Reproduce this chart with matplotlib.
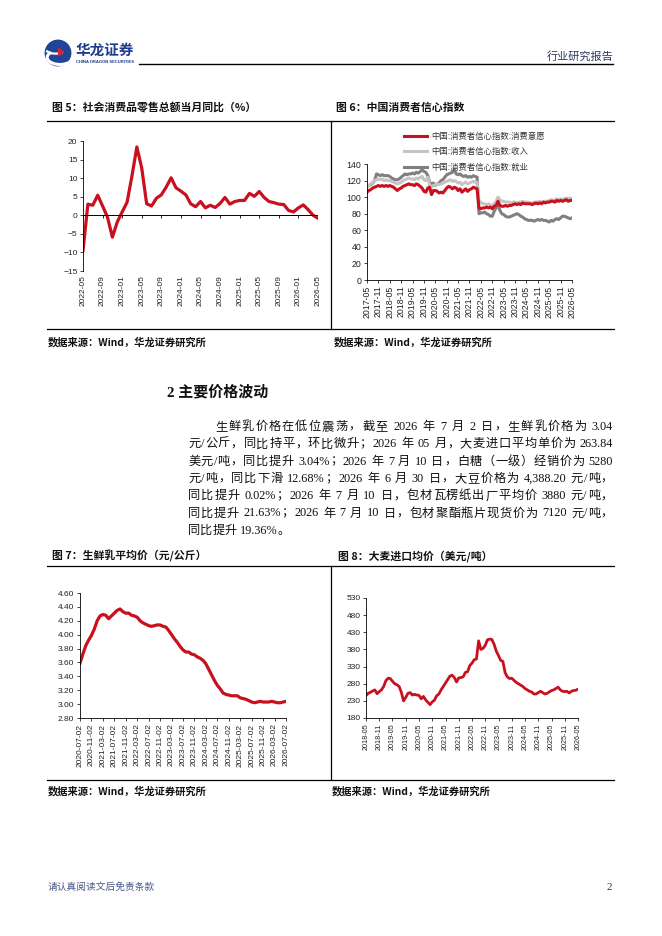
import re
import numpy as np
import matplotlib
matplotlib.use('Agg')
import matplotlib.pyplot as plt
from matplotlib.lines import Line2D
from matplotlib.patches import Circle, Arc, Polygon

plt.rcParams['font.family'] = ['Liberation Sans', 'Noto Sans CJK SC']
plt.rcParams['axes.linewidth'] = 0.6

W, H = 662, 936
CJK = ['Noto Sans CJK SC']
SERIF = ['Liberation Serif', 'Noto Sans CJK SC']
RED = '#C8101E'

# ---- 图5 社会消费品零售总额当月同比 (2022-05 .. 2026-05)
retail_labels = ['2022-05', '2022-09', '2023-01', '2023-05', '2023-09', '2024-01', '2024-05',
                 '2024-09', '2025-01', '2025-05', '2025-09', '2026-01', '2026-05']
retail_yoy = [-9.5, 3.0, 2.7, 5.4, 2.5, -0.5, -5.9, -1.8, 0.9, 3.5, 10.6, 18.4, 12.7,
              3.1, 2.5, 4.6, 5.5, 7.6, 10.1, 7.4, 6.5, 5.5, 3.1, 2.3, 3.7,
              2.0, 2.7, 2.1, 3.2, 4.8, 3.0, 3.7, 4.0, 4.0, 5.9, 5.1, 6.4,
              4.8, 3.7, 3.4, 3.0, 2.9, 1.3, 0.9, 2.0, 2.8, 1.5, 0.0, -0.8]

# ---- 图6 中国消费者信心指数 (2017-05 .. 2026-05)
conf_labels = ['2017-05', '2017-11', '2018-05', '2018-11', '2019-05', '2019-11', '2020-05',
               '2020-11', '2021-05', '2021-11', '2022-05', '2022-11', '2023-05', '2023-11',
               '2024-05', '2024-11', '2025-05', '2025-11', '2026-05']
conf_names = ['中国:消费者信心指数:消费意愿', '中国:消费者信心指数:收入', '中国:消费者信心指数:就业']
conf_willing = [106, 108, 109, 111, 112, 113,
                114, 113, 114, 113, 114, 113,
                114, 113, 112, 110, 108, 110,
                111, 113, 114, 115, 116, 115,
                115, 114, 116, 115, 113, 111,
                107, 106, 111, 112, 103, 108,
                108, 107, 105, 106, 105, 108,
                111, 113, 112, 110, 112, 111,
                108, 110, 106, 108, 110, 107,
                109, 110, 112, 111, 110, 87,
                86, 87, 87, 88, 87, 88,
                86, 89, 90, 95, 90, 89,
                89, 90, 89, 90, 90, 91,
                92, 91, 92, 91, 93, 92,
                92, 92, 92, 91, 92, 93,
                92, 93, 92, 94, 93, 94,
                94, 95, 95, 94, 96, 95,
                96, 95, 96, 97, 95, 96, 96]
conf_income = [112, 114, 116, 118, 120, 121,
               122, 121, 122, 120, 121, 120,
               120, 119, 118, 117, 116, 117,
               118, 120, 121, 122, 123, 122,
               122, 121, 123, 122, 124, 125,
               121, 120, 124, 115, 112, 114,
               115, 116, 115, 116, 117, 118,
               119, 120, 121, 119, 120, 119,
               117, 118, 115, 117, 118, 116,
               117, 118, 119, 118, 118, 95,
               94, 92, 92, 91, 92, 90,
               90, 92, 95, 100, 97, 95,
               95, 94, 94, 94, 93, 94,
               94, 93, 94, 94, 95, 94,
               94, 94, 93, 93, 94, 94,
               94, 95, 94, 95, 95, 95,
               96, 97, 96, 97, 98, 97,
               98, 97, 98, 99, 98, 99, 98]
conf_job = [112, 114, 115, 117, 120, 128,
            127, 126, 127, 126, 126, 126,
            125, 123, 122, 121, 121, 122,
            124, 126, 128, 127, 128, 128,
            129, 128, 130, 129, 131, 133,
            131, 130, 126, 118, 116, 117,
            114, 116, 117, 120, 121, 124,
            127, 128, 129, 130, 133, 128,
            127, 128, 126, 125, 126, 124,
            125, 124, 126, 125, 124, 80,
            81, 81, 82, 80, 79, 77,
            77, 83, 87, 91, 84, 80,
            79, 77, 76, 76, 77, 78,
            79, 80, 79, 77, 76, 74,
            73, 72, 72, 72, 71, 72,
            73, 72, 73, 72, 72, 71,
            70, 72, 71, 73, 74, 73,
            75, 77, 77, 76, 75, 74, 75]

# ---- 图7 生鲜乳平均价 (2020-07-02 .. 2026-07-02, monthly reads)
milk_labels = ['2020-07-02', '2020-11-02', '2021-03-02', '2021-07-02', '2021-11-02',
               '2022-03-02', '2022-07-02', '2022-11-02', '2023-03-02', '2023-07-02',
               '2023-11-02', '2024-03-02', '2024-07-02', '2024-11-02', '2025-03-02',
               '2025-07-02', '2025-11-02', '2026-03-02', '2026-07-02']
milk_price = [3.59, 3.72, 3.84, 3.92, 3.99, 4.08,
              4.20, 4.27, 4.29, 4.28, 4.23, 4.27, 4.31, 4.35, 4.37, 4.33, 4.31, 4.31,
              4.28, 4.27, 4.25, 4.20, 4.17, 4.15, 4.13, 4.12, 4.13, 4.14, 4.14, 4.12,
              4.11, 4.06, 4.00, 3.94, 3.89, 3.83, 3.78, 3.75, 3.75, 3.72, 3.71, 3.68,
              3.66, 3.63, 3.58, 3.50, 3.42, 3.34, 3.27, 3.22, 3.16, 3.14, 3.13, 3.12,
              3.12, 3.12, 3.09, 3.08, 3.07, 3.05, 3.03, 3.02, 3.03, 3.04, 3.03, 3.03,
              3.03, 3.04, 3.03, 3.02, 3.02, 3.03, 3.04]

# ---- 图8 大麦进口均价 (2018-05 .. 2026-05)
barley_labels = ['2018-05', '2018-11', '2019-05', '2019-11', '2020-05', '2020-11', '2021-05',
                 '2021-11', '2022-05', '2022-11', '2023-05', '2023-11', '2024-05', '2024-11',
                 '2025-05', '2025-11', '2026-05']
barley_price = [246, 252, 255, 259, 262, 251, 257, 262, 272, 289,
                296, 295, 287, 280, 277, 272, 255, 230, 240, 252,
                254, 247, 249, 247, 246, 236, 243, 233, 226, 219,
                227, 232, 245, 250, 262, 272, 282, 292, 302, 305,
                298, 285, 297, 298, 300, 313, 315, 333, 340, 350,
                352, 405, 380, 383, 392, 408, 410, 409, 395, 375,
                362, 348, 345, 312, 300, 295, 296, 290, 284, 280,
                276, 272, 266, 262, 258, 256, 250, 250, 254, 258,
                254, 250, 252, 256, 260, 262, 266, 270, 262, 258,
                257, 258, 253, 258, 260, 261, 264]

body_lines = [
    '生鲜乳价格在低位震荡，截至 2026 年 7 月 2 日，生鲜乳价格为 3.04',
    '元/公斤，同比持平，环比微升；2026 年 05 月，大麦进口平均单价为 263.84',
    '美元/吨，同比提升 3.04%；2026 年 7 月 10 日，白糖（一级）经销价为 5280',
    '元/吨，同比下滑 12.68%；2026 年 6 月 30 日，大豆价格为 4,388.20 元/吨，',
    '同比提升 0.02%；2026 年 7 月 10 日，包材瓦楞纸出厂平均价 3880 元/吨，',
    '同比提升 21.63%；2026 年 7 月 10 日，包材聚酯瓶片现货价为 7120 元/吨，',
    '同比提升 19.36%。',
]


def fx(x):
    return x / W


def fy(y):
    return 1 - y / H


def page_axes(x0, y0, x1, y1):
    return fig.add_axes([fx(x0), fy(y1), (x1 - x0) / W, (y1 - y0) / H])


def hline(y, x0, x1, lw=0.9, color='black'):
    fig.add_artist(Line2D([fx(x0), fx(x1)], [fy(y), fy(y)], color=color, lw=lw,
                          transform=fig.transFigure))


def vline(x, y0, y1, lw=0.9):
    fig.add_artist(Line2D([fx(x), fx(x)], [fy(y0), fy(y1)], color='black', lw=lw,
                          transform=fig.transFigure))


def style_axes(ax, size=6):
    for s in ['top', 'right']:
        ax.spines[s].set_visible(False)
    ax.tick_params(axis='both', direction='out', length=2.5, width=0.6, labelsize=size, pad=1.5,
                   colors='#222222')


def body_line(text, y, x0, x1, size, justify=True):
    r = fig.canvas.get_renderer()
    toks = re.findall(r'[!-~]+| |[^\x00-\x7f]', text)
    space = size * 100 / 72 * 0.25
    arts, widths = [], []
    for tk in toks:
        if tk == ' ':
            arts.append(None)
            widths.append(space)
            continue
        t = fig.text(0, fy(y), tk, fontsize=size, family=SERIF, va='center', ha='left',
                     color='#111111')
        widths.append(t.get_window_extent(r).width)
        arts.append(t)
    gap = (x1 - x0 - sum(widths)) / (len(toks) - 1) if justify else 0.0
    x = x0
    for t, w in zip(arts, widths):
        if t is not None:
            t.set_x(fx(x))
        x += w + gap


fig = plt.figure(figsize=(W / 100, H / 100), dpi=100)

# ---- header
logo = page_axes(44, 38, 72, 68)
logo.set_xlim(-1.1, 1.1)
logo.set_ylim(-1.1, 1.1)
logo.set_aspect('equal')
logo.axis('off')
logo.add_patch(Circle((0, 0), 1.0, color='#1E4597'))
logo.add_patch(Arc((0.15, -0.35), 2.0, 1.1, theta1=150, theta2=360, color='white', lw=2.2))
logo.add_patch(Arc((-0.2, 0.45), 1.7, 1.0, theta1=200, theta2=330, color='white', lw=1.6))
logo.add_patch(Polygon([[0.05, 0.35], [0.45, 0.05], [0.05, -0.2]], closed=True, color='#E0202A'))
fig.text(fx(76), fy(50), '华龙证券', fontsize=10.5, family=CJK, weight='bold', color='#1D3C8E',
         va='center', ha='left')
fig.text(fx(76), fy(62), 'CHINA DRAGON SECURITIES', fontsize=3.0, weight='bold', color='#1D3C8E',
         va='center', ha='left')
hline(64, 139, 613, lw=1.0)
fig.text(fx(613), fy(56), '行业研究报告', fontsize=8, family=CJK, color='#2E3A59',
         va='center', ha='right')

# ---- frames and captions
title_kw = dict(fontsize=7.8, family=CJK, weight='bold', va='center', ha='left', color='#111111')
fig.text(fx(52), fy(108), '图 5：社会消费品零售总额当月同比（%）', **title_kw)
fig.text(fx(336), fy(108), '图 6：中国消费者信心指数', **title_kw)
fig.text(fx(52), fy(556), '图 7：生鲜乳平均价（元/公斤）', **title_kw)
fig.text(fx(338), fy(556), '图 8：大麦进口均价（美元/吨）', **title_kw)
src_kw = dict(fontsize=7.4, family=CJK, weight='bold', va='center', ha='left', color='#111111')
for (sx, sy) in [(48, 342), (334, 342), (48, 791), (332, 791)]:
    fig.text(fx(sx), fy(sy), '数据来源：Wind，华龙证券研究所', **src_kw)
hline(121, 47, 614)
hline(329, 47, 614)
vline(331, 121, 329)
hline(566, 47, 614)
hline(780, 47, 614)
vline(331, 566, 780)

# ---- section text
fig.text(fx(167), fy(392), '2 主要价格波动', fontsize=10.8, family=SERIF, weight='bold',
         va='center', ha='left', color='#111111')
for i, line in enumerate(body_lines):
    x0 = 215 if i == 0 else 188
    body_line(line, 427 + i * 17.3, x0, 613, 8.8, justify=(i < len(body_lines) - 1))

# ---- footer
fig.text(fx(48), fy(887), '请认真阅读文后免责条款', fontsize=7, family=CJK, color='#4A5A8A',
         va='center', ha='left')
fig.text(fx(612), fy(887), '2', fontsize=8, family=SERIF, color='#333344', va='center', ha='right')

# ---- chart 5
ax5 = page_axes(83, 141, 318, 271)
x5 = np.arange(len(retail_yoy))
ax5.plot(x5, retail_yoy, color=RED, lw=2.3, solid_joinstyle='round')
ax5.set_xlim(0, len(retail_yoy) - 1)
ax5.set_ylim(-15, 20)
ax5.set_yticks(range(-15, 21, 5))
style_axes(ax5)
ax5.spines['bottom'].set_visible(False)
ax5.axhline(0, color='black', lw=0.7)
t5 = np.arange(0, len(retail_yoy), 4)
ax5.vlines(t5, -0.8, 0, color='black', lw=0.6)
ax5.set_xticks(t5)
ax5.set_xticklabels(retail_labels, rotation=90)
ax5.tick_params(axis='x', length=0, pad=3)

# ---- chart 6
ax6 = page_axes(367, 164, 572, 280)
x6 = np.arange(len(conf_willing))
l_job, = ax6.plot(x6, conf_job, color='#808080', lw=2.2)
l_inc, = ax6.plot(x6, conf_income, color='#C4C4C4', lw=2.2)
l_wil, = ax6.plot(x6, conf_willing, color=RED, lw=2.2)
ax6.set_xlim(0, len(conf_willing) - 1)
ax6.set_ylim(0, 140)
ax6.set_yticks(range(0, 141, 20))
ax6.set_xticks(np.arange(0, len(conf_willing), 6))
ax6.set_xticklabels(conf_labels, rotation=90)
style_axes(ax6, 6.3)
ax6.legend([l_wil, l_inc, l_job], conf_names, loc='upper left',
           bbox_to_anchor=(fx(404), fy(132)), bbox_transform=fig.transFigure, frameon=False,
           prop={'family': CJK, 'size': 6.0}, handlelength=2.8, handletextpad=0.5,
           labelspacing=0.75, borderpad=0, borderaxespad=0, labelcolor='#333333')

# ---- chart 7
ax7 = page_axes(80, 593, 286, 718)
x7 = np.arange(len(milk_price))
ax7.plot(x7, milk_price, color=RED, lw=2.3)
ax7.set_xlim(0, len(milk_price) - 1)
ax7.set_ylim(2.8, 4.6)
yt7 = np.arange(2.8, 4.61, 0.2)
ax7.set_yticks(yt7)
ax7.set_yticklabels(['%.2f' % v for v in yt7])
ax7.set_xticks(np.arange(0, len(milk_price), 4))
ax7.set_xticklabels(milk_labels, rotation=90)
style_axes(ax7, 6)

# ---- chart 8
ax8 = page_axes(366, 598, 578, 718)
x8 = np.arange(len(barley_price))
ax8.plot(x8, barley_price, color=RED, lw=2.0)
ax8.set_xlim(0, len(barley_price) - 1)
ax8.set_ylim(180, 530)
ax8.set_yticks(range(180, 531, 50))
ax8.set_xticks(np.arange(0, len(barley_price), 6))
ax8.set_xticklabels(barley_labels, rotation=90)
style_axes(ax8, 6)
ax8.tick_params(axis='x', labelsize=5.2)

fig.savefig('out.png', dpi=100)
